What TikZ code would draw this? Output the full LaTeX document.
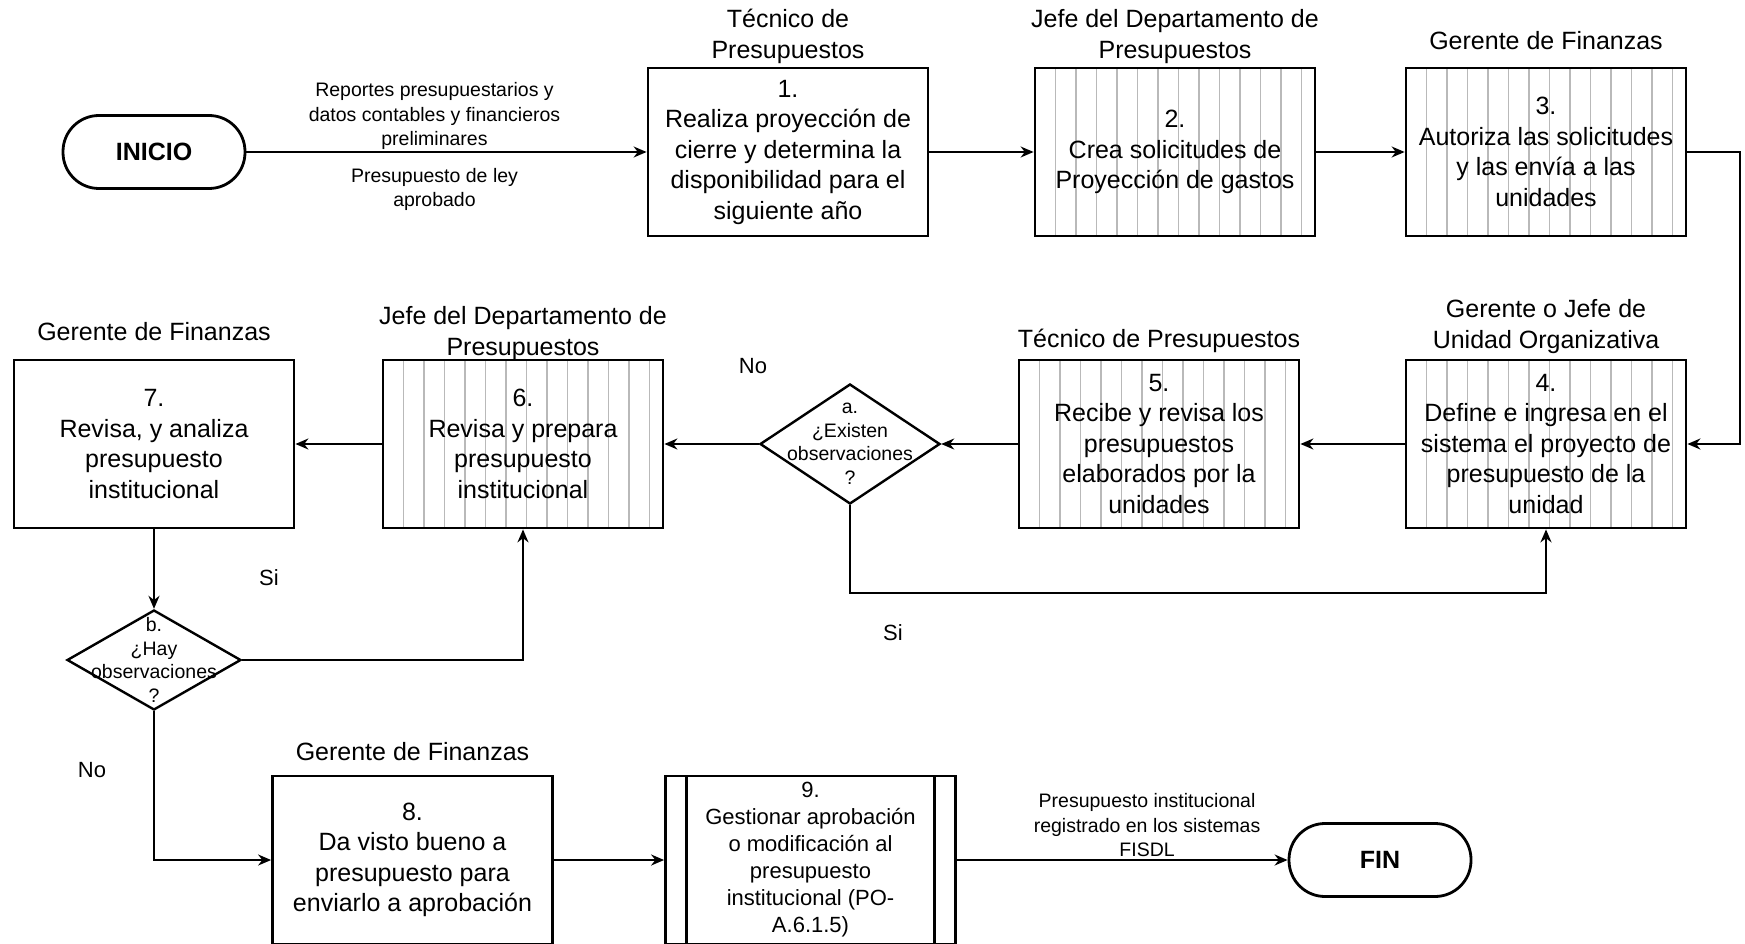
\documentclass[tikz,border=0pt]{standalone}
\usepackage{fontspec}
\setmainfont{Liberation Sans}
\usetikzlibrary{arrows.meta,positioning,shapes.geometric}

\begin{document}
\begin{tikzpicture}[x=1pt,y=-1pt,->,>={Stealth[length=13pt,width=11pt]},line width=2pt,
  box node/.style={rectangle,draw,line width=2.8pt,fill=white,minimum width=280pt,minimum height=168pt,inner sep=0pt,align=center,font=\fontsize{25}{30.5}\selectfont},
  hatch node/.style={box node,path picture={
      \foreach \k in {0,...,12}
        \draw[-,gray!55,line width=1.6pt] ([xshift=20.5pt+\k*20.5pt]path picture bounding box.south west) -- ([xshift=20.5pt+\k*20.5pt]path picture bounding box.north west);}},
  sub node/.style={box node,minimum width=290pt,font=\fontsize{22}{27}\selectfont,path picture={
      \draw[-,line width=2.4pt] ([xshift=21pt]path picture bounding box.south west) -- ([xshift=21pt]path picture bounding box.north west);
      \draw[-,line width=2.4pt] ([xshift=-21pt]path picture bounding box.south east) -- ([xshift=-21pt]path picture bounding box.north east);}},
  term node/.style={rectangle,rounded corners=36pt,draw,line width=2.8pt,minimum width=182pt,minimum height=73pt,font=\fontsize{25}{30}\selectfont\bfseries},
  dec node/.style={diamond,draw,line width=2.4pt,inner sep=0pt},
  dec text/.style={align=center,inner sep=0pt,font=\fontsize{19.5}{23.5}\selectfont},
  role/.style={align=center,inner sep=2pt,font=\fontsize{25}{30.5}\selectfont},
  flow text/.style={align=center,inner sep=2pt,font=\fontsize{19.5}{24.5}\selectfont},
  answer/.style={font=\fontsize{22}{26}\selectfont}]

  \useasboundingbox (0,0) rectangle (1745,944);

  % fila 1
  \node[term node] (ini) at (154,152) {INICIO};
  \node[box node] (1) at (788,152) {1.\\Realiza proyección de\\cierre y determina la\\disponibilidad para el\\siguiente año};
  \node[hatch node] (2) at (1175,152) {2.\\Crea solicitudes de\\Proyección de gastos};
  \node[hatch node] (3) at (1546,152) {3.\\Autoriza las solicitudes\\y las envía a las\\unidades};

  % fila 2
  \node[hatch node] (4) at (1546,444) {4.\\Define e ingresa en el\\sistema el proyecto de\\presupuesto de la\\unidad};
  \node[hatch node] (5) at (1159,444) {5.\\Recibe y revisa los\\presupuestos\\elaborados por la\\unidades};
  \node[dec node,minimum width=180pt,minimum height=120pt,
    label={[dec text]center:{a.\\¿Existen\\observaciones\\?}}] (a) at (850,444) {};
  \node[hatch node] (6) at (523,444) {6.\\Revisa y prepara\\presupuesto\\institucional};
  \node[box node] (7) at (154,444) {7.\\Revisa, y analiza\\presupuesto\\institucional};
  \node[dec node,minimum width=174pt,minimum height=100pt,
    label={[dec text]center:{b.\\¿Hay\\observaciones\\?}}] (b) at (154,660) {};

  % fila 3
  \node[box node] (8) at (412.5,860) {8.\\Da visto bueno a\\presupuesto para\\enviarlo a aprobación};
  \node[sub node] (9) at (810.5,860) {9.\\Gestionar aprobación\\o modificación al\\presupuesto\\institucional (PO-\\A.6.1.5)};
  \node[term node] (fin) at (1380,860) {FIN};

  % responsables
  \node[role,above=0pt of 1] (t1) {Técnico de\\Presupuestos};
  \node[role,above=0pt of 2] (t2) {Jefe del Departamento de\\Presupuestos};
  \node[role,above=14pt of 3] (t3) {Gerente de Finanzas};
  \node[role,above=2pt of 4] (t4) {Gerente o Jefe de\\Unidad Organizativa};
  \node[role,above=3pt of 5] (t5) {Técnico de Presupuestos};
  \node[role,above=-5pt of 6] (t6) {Jefe del Departamento de\\Presupuestos};
  \node[role,above=15pt of 7] (t7) {Gerente de Finanzas};
  \node[role,above=11pt of 8] (t8) {Gerente de Finanzas};

  % respuestas
  \node[answer] (no1) at (753,366) {No};
  \node[answer] (si1) at (893,633) {Si};
  \node[answer] (si2) at (269,578) {Si};
  \node[answer] (no2) at (92,770) {No};

  \draw (ini) -- node[flow text,above=-1pt,pos=0.47] {Reportes presupuestarios y\\datos contables y financieros\\preliminares}
    node[flow text,below=13pt,pos=0.47] {Presupuesto de ley\\aprobado} (1);
  \draw (1) -- (2);
  \draw (2) -- (3);
  \draw (3.east) -- ++(53,0) |- (4.east);
  \draw (4) -- (5);
  \draw (5) -- (a);
  \draw (a) -- (6);
  \draw (6) -- (7);
  \draw (a.south) -- ++(0,88) -| (4.south);
  \draw (7) -- (b);
  \draw (b.east) -| (6.south);
  \draw (b.south) |- (8.west);
  \draw (8) -- (9);
  \draw (9) -- node[flow text,above=0pt,pos=0.575] {Presupuesto institucional\\registrado en los sistemas\\FISDL} (fin);

\end{tikzpicture}
\end{document}
